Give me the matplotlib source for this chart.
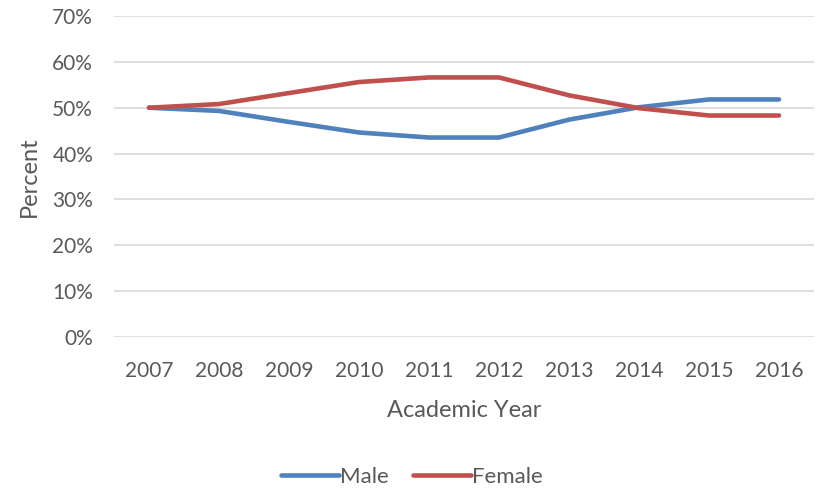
import matplotlib
matplotlib.use("Agg")
import matplotlib.pyplot as plt
from matplotlib.ticker import FuncFormatter

years = ["2007", "2008", "2009", "2010", "2011", "2012", "2013", "2014", "2015", "2016"]
male = [50.0, 49.3, 46.9, 44.6, 43.5, 43.5, 47.4, 50.1, 51.8, 51.8]
female = [50.0, 50.8, 53.2, 55.6, 56.6, 56.6, 52.7, 49.9, 48.3, 48.3]

plt.rcParams['font.family'] = ['Lato', 'DejaVu Sans']

fig = plt.figure(figsize=(8.17, 4.93), dpi=100)
ax = fig.add_axes([114/817, 1-337/493, 700/817, (337-16)/493])

x = list(range(len(years)))
ax.plot(x, male, color="#4F81BD", lw=3.3, solid_capstyle="round", label="Male")
ax.plot(x, female, color="#C0504D", lw=3.3, solid_capstyle="round", label="Female")

ax.set_xlim(-0.5, len(years)-0.5)
ax.set_ylim(0, 70)
ax.set_yticks(range(0, 71, 10))
ax.yaxis.set_major_formatter(FuncFormatter(lambda v, p: f"{int(v)}%"))
ax.set_xticks(x)
ax.set_xticklabels(years)
ax.grid(axis="y", color="#D9D9D9", lw=1.2)
ax.set_axisbelow(True)
for s in ax.spines.values():
    s.set_visible(False)
ax.tick_params(length=0, labelsize=15, colors="#595959")
ax.tick_params(axis="x", pad=17)
ax.tick_params(axis="y", pad=15)
ax.set_xlabel("Academic Year", fontsize=17, color="#595959", labelpad=14)
ax.set_ylabel("Percent", fontsize=17, color="#595959", labelpad=9)

leg = fig.legend(loc="center", bbox_to_anchor=(412/817, 1-477/493), ncol=2, frameon=False,
                 fontsize=16, handlelength=2.6, handletextpad=0.05, columnspacing=1.1)
for t in leg.get_texts():
    t.set_color("#595959")

fig.savefig("out.png", dpi=100)
